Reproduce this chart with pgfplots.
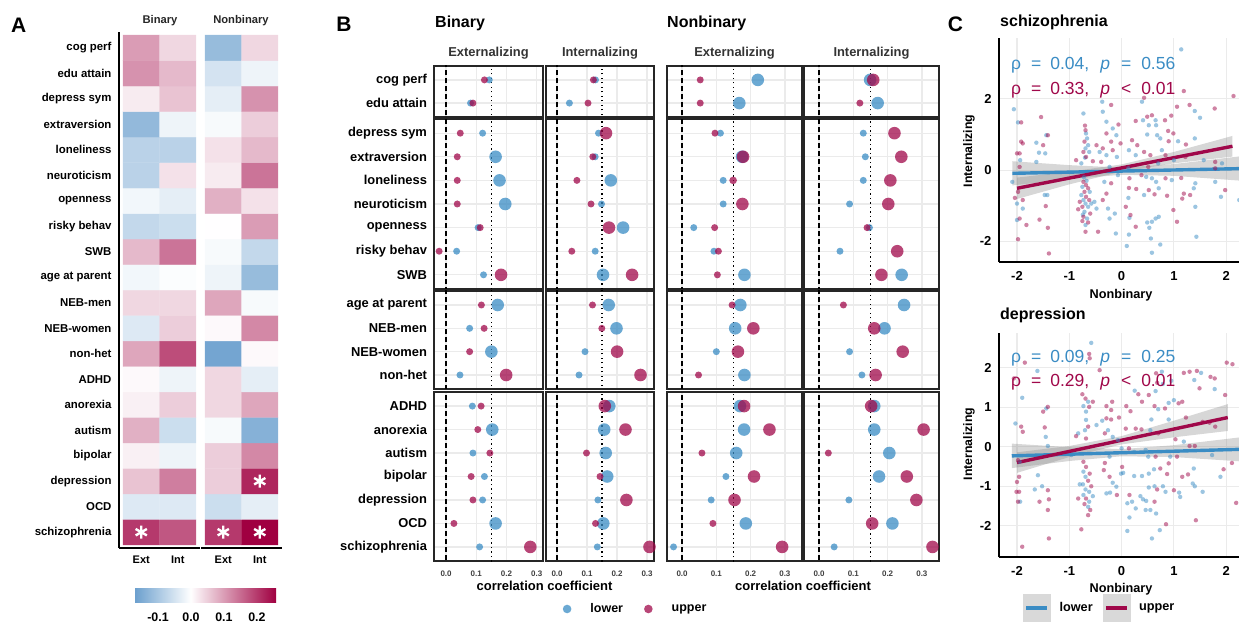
\documentclass[border=0pt]{standalone}
\usepackage{fontspec}
\setmainfont{Liberation Sans}
\usepackage{pgfplots}
\usepackage{pgfplotstable}
\pgfplotsset{compat=1.18}

\definecolor{cBlue}{RGB}{58,140,196}
\definecolor{cRed}{RGB}{160,8,74}
\newcommand{\fs}[1]{\fontsize{#1}{#1}\selectfont}

\pgfplotsset{
  colormap={heat}{rgb255(0pt)=(105,158,205) rgb255(4pt)=(255,255,255) rgb255(10pt)=(160,0,65)},
  every axis/.append style={/pgf/number format/assume math mode=true},
  heat/.style={scale only axis, width=81pt, height=516pt,
    xmin=-0.61, xmax=1.61, ymin=0.38, ymax=20.62,
    colormap name=heat, point meta min=-0.173, point meta max=0.258,
    xtick={0,1}, xticklabels={Ext,Int}, axis x line*=bottom,
    axis line style={line width=1.4pt, black}, major tick length=0pt,
    xticklabel style={font=\bfseries\fs{11}, yshift=-4pt},
    yticklabel style={font=\bfseries\fs{11.4}, xshift=-4pt}},
  dot/.style={scale only axis, axis line style={line width=1.1pt, black!85},
    xtick={0,0.1,0.2,0.3}, xticklabels={}, yticklabels={},
    grid=major, grid style={black!8, line width=1.3pt}, major tick length=0pt,
    yticklabel style={font=\bfseries\fs{12.9}, xshift=-3.5pt},
    xticklabel style={font=\bfseries\fs{8}, text=black!75, yshift=-6pt}},
  bot/.style={xticklabels={0.0,0.1,0.2,0.3}},
  g1/.style={height=51pt, ymin=18.4, ymax=20.6, ytick={19,20}},
  g2/.style={height=170pt, ymin=11.4, ymax=18.6, ytick={12,...,18}},
  g3/.style={height=98pt, ymin=7.4, ymax=11.6, ytick={8,...,11}},
  g4/.style={height=169pt, ymin=0.4, ymax=7.6, ytick={1,...,7}},
  c1/.style={width=109pt, xmin=-0.040, xmax=0.321},
  c2/.style={width=108pt, xmin=-0.037, xmax=0.323},
  c3/.style={width=135pt, xmin=-0.044, xmax=0.35},
  scat/.style={scale only axis, width=246pt, height=224pt, xmin=-2.344, xmax=2.36,
    axis lines*=left, axis line style={line width=1.4pt, black},
    xtick={-2,-1,0,1,2}, xticklabels={-2,-1,0,1,2},
    grid=major, grid style={black!8, line width=1.1pt}, major tick length=0pt,
    ticklabel style={font=\bfseries\fs{13}},
    xticklabel style={yshift=-6pt}, yticklabel style={xshift=-4pt}, clip=true},
}

% panel A: heat map cells (x: 0 = Ext, 1 = Int; y: 1 = schizophrenia ... 20 = cog perf)
\pgfplotstableread{
x y v
0 1 0.20
1 1 0.17
0 2 -0.04
1 2 -0.04
0 3 0.06
1 3 0.13
0 4 0.015
1 4 -0.02
0 5 0.08
1 5 -0.06
0 6 0.015
1 6 0.05
0 7 0.005
1 7 -0.02
0 8 0.09
1 8 0.18
0 9 -0.04
1 9 0.05
0 10 0.04
1 10 0.04
0 11 -0.015
1 11 -0.005
0 12 0.07
1 12 0.14
0 13 -0.07
1 13 -0.06
0 14 -0.015
1 14 -0.03
0 15 -0.08
1 15 0.03
0 16 -0.08
1 16 -0.08
0 17 -0.125
1 17 -0.02
0 18 0.02
1 18 0.06
0 19 0.11
1 19 0.07
0 20 0.10
1 20 0.04
}\hb
\pgfplotstableread{
x y v
0 1 0.20
1 1 0.26
0 2 -0.06
1 2 -0.03
0 3 0.05
1 3 0.22
0 4 0.05
1 4 0.12
0 5 -0.01
1 5 -0.14
0 6 0.04
1 6 0.09
0 7 0.04
1 7 -0.03
0 8 -0.16
1 8 0.005
0 9 0.005
1 9 0.12
0 10 0.09
1 10 -0.01
0 11 -0.02
1 11 -0.12
0 12 -0.01
1 12 -0.07
0 13 0.0
1 13 0.10
0 14 0.08
1 14 0.03
0 15 0.02
1 15 0.14
0 16 0.03
1 16 0.07
0 17 -0.01
1 17 0.05
0 18 -0.03
1 18 0.11
0 19 -0.05
1 19 -0.02
0 20 -0.12
1 20 0.04
}\hn

% panel B: correlations of lower / upper groups, with dot sizes
\pgfplotstableread{
y lo ls up us
20 0.143 3.5 0.127 3.5
19 0.081 3.5 0.089 3.5
18 0.121 3.5 0.047 3.5
17 0.164 6.3 0.037 3.5
16 0.177 6.3 0.037 3.5
15 0.196 6.3 0.037 3.5
14 0.106 3.5 0.113 3.5
13 0.035 3.5 -0.023 3.5
12 0.124 3.5 0.182 6.3
11 0.171 6.3 0.117 3.5
10 0.078 3.5 0.126 3.5
9 0.150 6.3 0.078 3.5
8 0.046 3.5 0.199 6.3
7 0.087 3.5 0.116 3.5
6 0.153 6.3 0.105 3.5
5 0.089 3.5 0.145 3.5
4 0.127 3.5 0.083 3.5
3 0.121 3.5 0.089 3.5
2 0.164 6.3 0.026 3.5
1 0.111 3.5 0.279 6.3
}\tbe
\pgfplotstableread{
y lo ls up us
20 0.128 3.5 0.121 3.5
19 0.041 3.5 0.103 3.5
18 0.138 3.5 0.163 6.3
17 0.127 3.5 0.119 3.5
16 0.179 6.3 0.066 3.5
15 0.148 3.5 0.113 3.5
14 0.220 6.3 0.173 6.3
13 0.127 3.5 0.049 3.5
12 0.153 6.3 0.250 6.3
11 0.172 6.3 0.118 3.5
10 0.198 6.3 0.149 3.5
9 0.093 3.5 0.200 6.3
8 0.073 3.5 0.278 6.3
7 0.174 6.3 0.159 6.3
6 0.157 6.3 0.228 6.3
5 0.162 6.3 0.098 3.5
4 0.167 6.3 0.143 3.5
3 0.136 3.5 0.231 6.3
2 0.154 6.3 0.128 3.5
1 0.134 3.5 0.308 6.3
}\tbi
\pgfplotstableread{
y lo ls up us
20 0.221 6.3 0.053 3.5
19 0.167 6.3 0.053 3.5
18 0.112 3.5 0.096 3.5
17 0.175 6.3 0.178 6.3
16 0.120 3.5 0.149 3.8
15 0.120 3.5 0.176 6.3
14 0.034 3.5 0.095 3.5
13 0.093 3.5 0.106 3.5
12 0.182 6.3 0.103 3.5
11 0.170 6.3 0.146 3.5
10 0.155 6.3 0.208 6.3
9 0.100 3.5 0.163 6.3
8 0.182 6.3 0.048 3.5
7 0.169 6.3 0.181 6.3
6 0.181 6.3 0.255 6.3
5 0.158 6.3 0.058 3.5
4 0.128 3.5 0.210 6.3
3 0.085 3.5 0.153 6.3
2 0.186 6.3 0.090 3.5
1 -0.025 3.5 0.292 6.3
}\tne
\pgfplotstableread{
y lo ls up us
20 0.149 6.3 0.158 6.3
19 0.171 6.3 0.119 3.5
18 0.129 3.5 0.220 6.3
17 0.135 3.5 0.240 6.3
16 0.129 3.5 0.208 6.3
15 0.089 3.5 0.202 6.3
14 0.147 3.5 0.140 3.5
13 0.061 3.5 0.228 6.3
12 0.241 6.3 0.182 6.3
11 0.248 6.3 0.071 3.5
10 0.191 6.3 0.161 6.3
9 0.089 3.5 0.244 6.3
8 0.125 3.5 0.165 6.3
7 0.161 6.3 0.152 6.3
6 0.161 6.3 0.305 6.3
5 0.205 6.3 0.027 3.5
4 0.175 6.3 0.256 6.3
3 0.087 3.5 0.284 6.3
2 0.214 6.3 0.155 6.3
1 0.044 3.5 0.331 6.3
}\tni

% panel C: individual scores
\pgfplotstableread{
x y
-2.06 1.71
-1.98 1.34
-1.63 0.77
-1.44 0.98
-1.58 0.49
-1.46 0.47
-1.94 0.28
-2.09 -0.33
-2.00 -0.94
-1.89 -1.08
-2.00 -1.40
-1.47 -0.70
-1.42 -0.70
-1.63 0.23
-0.73 1.59
-0.68 1.03
-0.66 0.89
-0.64 0.70
-0.69 0.61
-0.62 0.51
-0.70 0.35
-0.77 0.19
-0.72 -0.20
-0.67 -0.30
-0.75 -0.47
-0.61 -0.61
-0.77 -0.70
-0.73 -0.84
-0.69 -0.94
-0.58 -0.94
-0.64 -1.03
-0.71 -1.17
-0.74 -1.25
-0.66 -1.36
-0.69 -1.54
-0.48 -1.08
-0.52 -0.89
-0.36 1.64
-0.37 1.92
-0.29 1.36
-0.17 1.17
-0.10 0.98
-0.29 0.42
-0.09 0.37
-0.23 0.09
-0.33 -0.33
-0.26 -1.08
-0.13 -1.22
-0.23 -1.36
-0.11 -1.78
-0.07 -0.14
-0.42 0.51
1.14 3.39
0.39 1.92
1.40 1.66
1.50 1.47
0.41 1.40
0.65 1.40
0.52 1.26
0.66 1.26
0.49 1.00
0.68 0.98
0.74 0.89
1.08 0.81
1.40 0.89
0.14 0.56
0.77 0.56
0.27 0.42
1.00 0.28
1.57 0.28
1.92 0.19
0.13 0.05
0.70 0.19
0.47 -0.19
0.58 -0.23
0.66 -0.33
0.96 -0.28
1.41 -0.37
1.79 -0.33
0.71 -0.51
0.43 -0.70
1.38 -0.51
0.13 -0.78
1.90 -0.75
1.41 -1.03
0.15 -1.34
0.65 -1.36
0.71 -1.31
0.58 -1.45
0.49 -1.47
0.53 -1.62
0.14 -1.81
0.56 -1.92
1.43 -1.87
0.74 -2.09
0.10 -2.13
0.58 -2.32
2.25 -0.84
}\sb
\pgfplotstableread{
x y
-1.92 1.34
-1.54 1.49
-1.92 0.80
-1.89 0.75
-2.00 0.47
-1.95 0.47
-1.50 0.70
-1.41 0.98
-1.95 0.09
-1.98 -0.61
-2.04 -0.78
-1.89 -0.84
-1.95 -1.36
-1.82 -1.54
-1.98 -1.94
-1.45 -1.01
-1.57 -1.39
-1.41 -1.62
-1.39 -2.34
-0.70 1.25
-0.69 1.12
-0.71 0.80
-0.73 0.51
-0.68 0.37
-0.87 0.28
-0.55 0.25
-0.73 -0.33
-0.68 -0.42
-0.64 -0.51
-0.71 -0.61
-0.68 -0.75
-0.62 -0.84
-0.80 -0.89
-0.75 -1.03
-0.83 -1.10
-0.60 -1.22
-0.73 -1.31
-0.75 -1.43
-0.64 -1.47
-0.45 -1.73
-0.69 -1.73
-0.20 1.83
-0.29 1.03
-0.20 0.80
-0.36 0.61
-0.17 0.56
-0.39 0.23
-0.20 -0.37
-0.29 -0.66
-0.36 -0.84
-0.48 0.70
1.19 2.22
2.14 2.08
0.43 2.03
1.06 1.78
1.30 1.83
1.78 1.73
-0.06 1.28
0.27 1.38
0.49 1.50
0.58 1.54
0.83 1.40
0.95 1.53
0.89 1.10
0.99 1.03
0.20 0.84
0.30 0.70
0.90 0.81
1.23 0.72
-0.02 0.75
0.43 0.51
0.55 0.42
0.84 0.42
1.22 0.37
1.79 0.23
0.51 0.09
1.79 0.05
0.15 -0.23
0.38 -0.14
0.84 -0.23
1.14 -0.22
1.98 -0.56
0.14 -0.50
0.28 -0.53
0.52 -0.56
0.63 -0.68
0.87 -0.72
1.19 -0.66
1.16 -0.80
1.31 -0.70
0.08 -1.03
0.99 -1.12
0.17 -1.26
1.06 -1.45
0.27 -1.59
}\sm
\pgfplotstableread{
x y
-1.61 1.92
-1.90 1.24
-0.58 2.63
-0.64 1.14
-0.73 1.03
-0.68 0.89
-0.68 0.68
-0.70 0.42
-1.44 0.97
-2.03 0.59
-1.45 0.25
-1.41 0.02
-0.37 0.66
-0.48 0.55
-0.26 0.42
-0.17 0.25
-0.07 0.17
-0.83 0.34
-0.96 -0.21
-1.95 -0.38
-1.94 -1.39
-1.60 -0.72
-1.52 -1.00
-1.66 -1.08
-0.80 -0.95
-0.73 -0.63
-0.69 -0.76
-0.74 -0.95
-0.69 -1.08
-0.62 -1.14
-0.73 -1.22
-0.55 -1.25
-0.62 -1.39
-0.64 -1.52
-0.17 -0.91
-0.29 -1.18
-0.22 -1.16
-0.10 -1.01
-0.01 -0.68
-0.23 -0.25
1.52 1.87
0.77 1.90
0.79 1.59
0.65 1.41
0.95 1.67
1.39 1.69
1.78 1.46
0.25 1.42
0.90 1.11
1.00 1.18
0.70 0.95
0.57 0.69
0.90 0.69
0.55 0.42
1.19 0.13
0.00 -0.04
0.24 -0.13
0.46 -0.08
0.51 -0.25
0.93 -0.25
1.73 -0.21
0.03 -0.66
0.24 -0.74
0.39 -0.74
0.52 -0.68
0.62 -0.57
1.38 -0.55
1.89 -0.76
0.52 -1.03
0.63 -1.00
0.79 -1.00
0.84 -1.14
1.36 -0.93
1.40 -1.00
1.55 -1.14
1.10 -1.16
1.12 -1.27
0.36 -1.25
0.41 -1.33
0.47 -1.37
0.11 -1.43
0.20 -1.39
0.46 -1.60
0.55 -1.60
0.27 -1.56
0.66 -1.69
0.15 -1.79
0.73 -2.11
0.11 -2.13
0.58 -2.32
}\db
\pgfplotstableread{
x y
-1.85 2.13
-2.06 1.73
-0.62 2.35
-0.61 2.24
-0.42 1.94
-0.75 1.33
-0.69 1.22
-0.55 1.14
-0.62 1.01
-0.64 0.51
-0.68 0.21
-0.87 0.27
-1.50 0.89
-1.41 1.01
-1.92 0.51
-1.89 0.38
-1.47 0.49
-0.18 1.14
-0.29 1.03
-0.20 0.93
-0.29 0.72
-0.20 0.69
-0.32 0.34
-1.98 -0.34
-1.96 -0.76
-2.00 -0.89
-2.01 -1.14
-1.96 -1.14
-1.98 -1.39
-1.41 -1.10
-1.57 -1.39
-1.39 -1.33
-1.41 -1.60
-1.39 -2.32
-1.90 -2.53
-0.73 -0.38
-0.68 -0.51
-0.61 -0.68
-0.64 -0.86
-0.58 -1.00
-0.68 -1.31
-0.71 -1.45
-0.60 -1.60
-0.64 -1.73
-0.77 -2.09
-0.83 -1.31
-0.32 -0.41
-0.34 -0.59
-0.23 -0.76
-0.09 -1.22
2.01 2.13
2.12 2.09
1.44 1.92
1.19 1.87
1.30 1.90
0.66 1.86
0.68 1.62
1.70 1.77
1.78 1.73
1.49 1.48
1.98 1.31
0.32 1.33
0.39 1.14
0.52 1.31
1.09 1.10
1.16 1.14
0.63 1.03
0.83 0.97
0.09 1.03
0.17 0.90
-0.05 0.74
1.23 0.74
1.55 0.63
1.68 0.61
1.79 0.51
0.08 0.46
0.27 0.46
0.38 0.44
0.70 0.34
1.03 0.19
1.30 0.02
1.40 0.02
0.14 -0.04
0.65 -0.25
1.06 -0.25
0.01 -0.51
0.74 -0.55
0.90 -0.42
0.87 -0.69
1.16 -0.76
1.27 -0.70
1.95 -0.57
2.11 -0.41
0.68 -1.08
1.00 -1.10
0.15 -1.22
0.63 -1.39
0.85 -1.96
1.42 -1.86
2.19 -1.42
}\dm

\newcommand{\refl}{%
  \addplot[black, line width=1.3pt, dash pattern=on 5pt off 3pt, forget plot] coordinates {(0,-5) (0,25)};
  \addplot[black, line width=1.3pt, dash pattern=on 1.3pt off 3.2pt, forget plot] coordinates {(0.15,-5) (0.15,25)};
}
\newcommand{\pdots}[2]{%
  \addplot[scatter, only marks, mark=*, forget plot, restrict y to domain=#2,
    scatter/use mapped color={draw opacity=0, fill=cBlue, fill opacity=0.75},
    visualization depends on={\thisrow{ls} \as \msz},
    scatter/@pre marker code/.append style={/tikz/mark size=\msz}]
    table[x=lo, y=y] {#1};
  \addplot[scatter, only marks, mark=*, forget plot, restrict y to domain=#2,
    scatter/use mapped color={draw opacity=0, fill=cRed, fill opacity=0.75},
    visualization depends on={\thisrow{us} \as \msz},
    scatter/@pre marker code/.append style={/tikz/mark size=\msz}]
    table[x=up, y=y] {#1};
}
\newcommand{\pts}[2]{%
  \addplot[only marks, mark=*, mark size=2.2pt, forget plot, mark options={draw opacity=0, fill=#1, fill opacity=0.5}] table {#2};
}

\begin{document}
\begin{tikzpicture}
\path[use as bounding box] (0pt,0pt) rectangle (1239pt,622pt);

% ---------------- A ----------------
\begin{axis}[heat, at={(119pt,74pt)}, axis y line*=left,
  ytick={1,...,20},
  yticklabels={schizophrenia,OCD,depression,bipolar,autism,anorexia,ADHD,non-het,NEB-women,NEB-men,age at parent,SWB,risky behav,openness,neuroticism,loneliness,extraversion,depress sym,edu attain,cog perf},
  colorbar horizontal,
  colorbar style={at={(parent axis.south west)}, anchor=north west, xshift=15pt, yshift=-25pt,
    scale only axis, width=142pt, height=21pt, axis line style={draw=none},
    xtick={-0.1,0,0.1,0.2}, xticklabels={-0.1,0.0,0.1,0.2}, major tick length=0pt,
    xticklabel style={font=\bfseries\fs{12.4}, yshift=-7pt}}]
\addplot[matrix plot*, mesh/cols=2, point meta=explicit] table[meta=v] {\hb};
\addplot[only marks, mark=asterisk, mark size=6.5pt, white, line width=2.4pt] coordinates {(0,1)};
\end{axis}
\begin{axis}[heat, at={(201pt,74pt)}, axis y line=none, ytick=\empty]
\addplot[matrix plot*, mesh/cols=2, point meta=explicit] table[meta=v] {\hn};
\addplot[only marks, mark=asterisk, mark size=6.5pt, white, line width=2.4pt] coordinates {(0,1) (1,1) (1,3)};
\end{axis}

% ---------------- B ----------------
% column 1: binary externalizing
\begin{axis}[dot, c1, g1, at={(434pt,505pt)}, yticklabels={edu attain,cog perf}]
\refl \pdots{\tbe}{18.5:20.5}
\end{axis}
\begin{axis}[dot, c1, g2, at={(434pt,333pt)}, yticklabels={SWB,risky behav,openness,neuroticism,loneliness,extraversion,depress sym}]
\refl \pdots{\tbe}{11.5:18.5}
\end{axis}
\begin{axis}[dot, c1, g3, at={(434pt,233pt)}, yticklabels={non-het,NEB-women,NEB-men,age at parent}]
\refl \pdots{\tbe}{7.5:11.5}
\end{axis}
\begin{axis}[dot, c1, g4, bot, at={(434pt,61pt)}, yticklabels={schizophrenia,OCD,depression,bipolar,autism,anorexia,ADHD}]
\refl \pdots{\tbe}{0.5:7.5}
\end{axis}
% column 2: binary internalizing
\begin{axis}[dot, c2, g1, at={(546pt,505pt)}]
\refl \pdots{\tbi}{18.5:20.5}
\end{axis}
\begin{axis}[dot, c2, g2, at={(546pt,333pt)}]
\refl \pdots{\tbi}{11.5:18.5}
\end{axis}
\begin{axis}[dot, c2, g3, at={(546pt,233pt)}]
\refl \pdots{\tbi}{7.5:11.5}
\end{axis}
\begin{axis}[dot, c2, g4, bot, at={(546pt,61pt)},
  legend style={at={(0.126,-0.284)}, anchor=west, draw=none, fill=none, legend columns=-1,
    font=\bfseries\fs{12.5},
    /tikz/every odd column/.append style={column sep=17pt},
    /tikz/every even column/.append style={column sep=19pt}}]
\refl \pdots{\tbi}{0.5:7.5}
\addlegendimage{only marks, mark=*, mark size=4.3pt, mark options={draw opacity=0, fill=cBlue, fill opacity=0.75}}
\addlegendentry{lower}
\addlegendimage{only marks, mark=*, mark size=4.3pt, mark options={draw opacity=0, fill=cRed, fill opacity=0.75}}
\addlegendentry{upper}
\end{axis}
% column 3: nonbinary externalizing
\begin{axis}[dot, c3, g1, at={(667pt,505pt)}]
\refl \pdots{\tne}{18.5:20.5}
\end{axis}
\begin{axis}[dot, c3, g2, at={(667pt,333pt)}]
\refl \pdots{\tne}{11.5:18.5}
\end{axis}
\begin{axis}[dot, c3, g3, at={(667pt,233pt)}]
\refl \pdots{\tne}{7.5:11.5}
\end{axis}
\begin{axis}[dot, c3, g4, bot, at={(667pt,61pt)}]
\refl \pdots{\tne}{0.5:7.5}
\end{axis}
% column 4: nonbinary internalizing
\begin{axis}[dot, c3, g1, at={(804pt,505pt)}]
\refl \pdots{\tni}{18.5:20.5}
\end{axis}
\begin{axis}[dot, c3, g2, at={(804pt,333pt)}]
\refl \pdots{\tni}{11.5:18.5}
\end{axis}
\begin{axis}[dot, c3, g3, at={(804pt,233pt)}]
\refl \pdots{\tni}{7.5:11.5}
\end{axis}
\begin{axis}[dot, c3, g4, bot, at={(804pt,61pt)}]
\refl \pdots{\tni}{0.5:7.5}
\end{axis}

% ---------------- C ----------------
\begin{axis}[scat, at={(999pt,360pt)}, ymin=-2.58, ymax=3.71, ytick={-2,0,2}, yticklabels={-2,0,2}]
\pts{cBlue}{\sb}
\pts{cRed}{\sm}
\addplot[fill=black!45, fill opacity=0.35, draw=none, forget plot] coordinates
  {(-2.09,-0.43) (-1,-0.25) (0,-0.13) (1,-0.16) (2.4,-0.31) (2.4,0.41) (1,0.17) (0,0.07) (-1,0.14) (-2.09,0.25)} -- cycle;
\addplot[fill=black!45, fill opacity=0.35, draw=none, forget plot] coordinates
  {(-2.0,-0.81) (-1,-0.40) (0,-0.04) (1,0.19) (2.12,0.38) (2.12,0.96) (1,0.51) (0,0.16) (-1,-0.045) (-2.0,-0.21)} -- cycle;
\addplot[cBlue, line width=3.4pt, forget plot] coordinates {(-2.09,-0.09) (2.4,0.046)};
\addplot[cRed, line width=3.4pt, forget plot] coordinates {(-2.0,-0.51) (2.12,0.67)};
\end{axis}
\begin{axis}[scat, at={(999pt,65pt)}, ymin=-2.79, ymax=2.88, ytick={-2,-1,0,1,2}, yticklabels={-2,-1,0,1,2},
  legend image code/.code={\fill[black!15] (0pt,-13.5pt) rectangle (27pt,13.5pt); \draw[#1, line width=3.6pt] (3pt,0pt) -- (24pt,0pt);},
  legend style={at={(0.085,-0.228)}, anchor=west, draw=none, fill=none, legend columns=-1,
    font=\bfseries\fs{12.7},
    /tikz/every odd column/.append style={column sep=7pt},
    /tikz/every even column/.append style={column sep=8pt}}]
\pts{cBlue}{\db}
\pts{cRed}{\dm}
\addplot[fill=black!45, fill opacity=0.35, draw=none, forget plot] coordinates
  {(-2.1,-0.54) (-1,-0.36) (0,-0.24) (1,-0.26) (2.4,-0.38) (2.4,0.26) (1,0.04) (0,-0.06) (-1,-0.01) (-2.1,0.08)} -- cycle;
\addplot[fill=black!45, fill opacity=0.35, draw=none, forget plot] coordinates
  {(-2.0,-0.66) (-1,-0.26) (0,0.06) (1,0.24) (2.03,0.40) (2.03,1.08) (1,0.66) (0,0.27) (-1,0.02) (-2.0,-0.14)} -- cycle;
\addplot[cBlue, line width=3.4pt, forget plot] coordinates {(-2.1,-0.23) (2.4,-0.059)};
\addplot[cRed, line width=3.4pt, forget plot] coordinates {(-2.0,-0.40) (2.03,0.74)};
\addlegendimage{cBlue}
\addlegendentry{lower}
\addlegendimage{cRed}
\addlegendentry{upper}
\end{axis}

% ---------------- text ----------------
\node[anchor=base, font=\bfseries\fs{21}] at (18.8pt,589.7pt) {A};
\node[anchor=base, font=\bfseries\fs{21}] at (344pt,590.3pt) {B};
\node[anchor=base, font=\bfseries\fs{21}] at (955.5pt,590.3pt) {C};
\node[anchor=base, font=\bfseries\fs{11.2}, text=black!85] at (160pt,598.7pt) {Binary};
\node[anchor=base, font=\bfseries\fs{11.2}, text=black!85] at (241pt,598.7pt) {Nonbinary};
\node[anchor=base west, font=\bfseries\fs{16}, inner sep=0pt] at (435pt,594.3pt) {Binary};
\node[anchor=base west, font=\bfseries\fs{16}, inner sep=0pt] at (667pt,594.3pt) {Nonbinary};
\foreach \cx/\lab in {488.5/Externalizing, 600/Internalizing, 734.5/Externalizing, 871.5/Internalizing}
  \node[anchor=base, font=\bfseries\fs{12.9}, text=black!80] at (\cx pt,565pt) {\lab};
\node[anchor=base, font=\bfseries\fs{13}] at (544.5pt,31.5pt) {correlation coefficient};
\node[anchor=base, font=\bfseries\fs{13}] at (803pt,31.5pt) {correlation coefficient};
\node[anchor=base west, font=\bfseries\fs{16}, inner sep=0pt] at (1000pt,595.3pt) {schizophrenia};
\node[anchor=base west, font=\bfseries\fs{16}, inner sep=0pt] at (1000pt,302pt) {depression};
\node[anchor=base, font=\bfseries\fs{12.7}] at (1121pt,323.7pt) {Nonbinary};
\node[anchor=base, font=\bfseries\fs{12.7}] at (1121pt,30pt) {Nonbinary};
\node[anchor=base, rotate=90, font=\bfseries\fs{12.3}] at (972pt,471pt) {Internalizing};
\node[anchor=base, rotate=90, font=\bfseries\fs{12.3}] at (972pt,178pt) {Internalizing};
\node[anchor=base west, inner sep=0pt, font=\fs{17.5}, text=cBlue] at (1011pt,552pt)
  {ρ\hspace{10pt}=\hspace{9pt}0.04,\hspace{11pt}\textit{p}\hspace{11pt}=\hspace{10pt}0.56};
\node[anchor=base west, inner sep=0pt, font=\fs{17.5}, text=cRed] at (1011pt,527pt)
  {ρ\hspace{10pt}=\hspace{9pt}0.33,\hspace{11pt}\textit{p}\hspace{11pt}<\hspace{10pt}0.01};
\node[anchor=base west, inner sep=0pt, font=\fs{17.5}, text=cBlue] at (1011pt,259.3pt)
  {ρ\hspace{10pt}=\hspace{9pt}0.09,\hspace{11pt}\textit{p}\hspace{11pt}=\hspace{10pt}0.25};
\node[anchor=base west, inner sep=0pt, font=\fs{17.5}, text=cRed] at (1011pt,235.3pt)
  {ρ\hspace{10pt}=\hspace{9pt}0.29,\hspace{11pt}\textit{p}\hspace{11pt}<\hspace{10pt}0.01};
\end{tikzpicture}
\end{document}
